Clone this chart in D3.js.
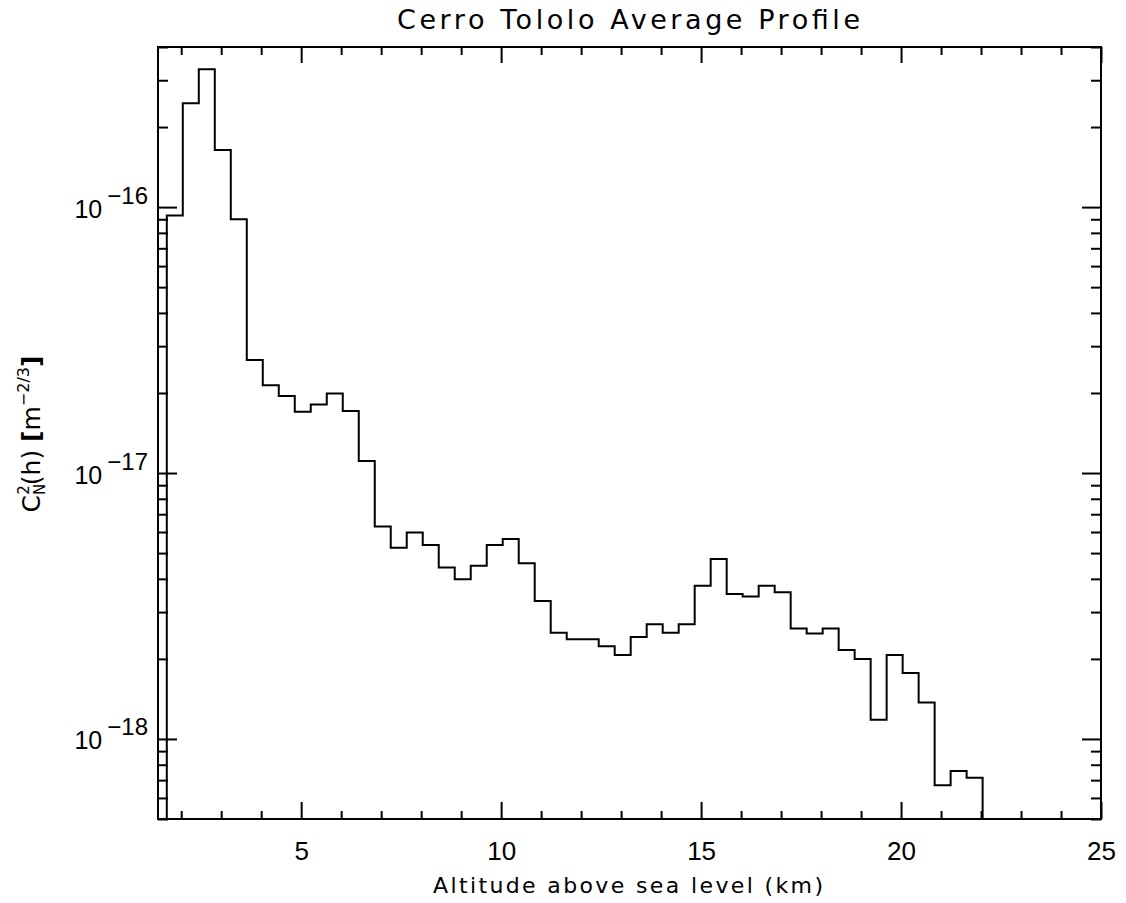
<!DOCTYPE html>
<html>
<head>
<meta charset="utf-8">
<script src="https://cdn.jsdelivr.net/npm/d3@7"></script>
<style>
  body { margin: 0; background: #fff; }
  svg { display: block; font-family: "DejaVu Sans", sans-serif; }
  .tick line { stroke: #000; stroke-width: 2; }
</style>
</head>
<body>
<svg id="chart" width="1126" height="903"></svg>
<script>
// altitude of each bin's lower edge (km), bins are 0.4 km wide
const altitude = [1.64, 2.04, 2.44, 2.84, 3.24, 3.64, 4.04, 4.44, 4.84, 5.24,
  5.64, 6.04, 6.44, 6.84, 7.24, 7.64, 8.04, 8.44, 8.84, 9.24,
  9.64, 10.04, 10.44, 10.84, 11.24, 11.64, 12.04, 12.44, 12.84, 13.24,
  13.64, 14.04, 14.44, 14.84, 15.24, 15.64, 16.04, 16.44, 16.84, 17.24,
  17.64, 18.04, 18.44, 18.84, 19.24, 19.64, 20.04, 20.44, 20.84, 21.24, 21.64];
const binWidth = 0.4;

// Cn2(h) in m^-2/3
const cn2 = [9.3e-17, 2.46e-16, 3.3e-16, 1.64e-16, 9.0e-17, 2.66e-17, 2.14e-17, 1.95e-17, 1.70e-17, 1.81e-17,
  1.99e-17, 1.71e-17, 1.11e-17, 6.3e-18, 5.24e-18, 5.98e-18, 5.36e-18, 4.41e-18, 3.99e-18, 4.48e-18,
  5.36e-18, 5.65e-18, 4.58e-18, 3.30e-18, 2.51e-18, 2.37e-18, 2.37e-18, 2.23e-18, 2.07e-18, 2.42e-18,
  2.70e-18, 2.51e-18, 2.70e-18, 3.77e-18, 4.75e-18, 3.51e-18, 3.43e-18, 3.77e-18, 3.56e-18, 2.60e-18,
  2.49e-18, 2.60e-18, 2.16e-18, 2.00e-18, 1.18e-18, 2.07e-18, 1.77e-18, 1.37e-18, 6.7e-19, 7.57e-19, 7.14e-19];

const xTicks = [5, 10, 15, 20, 25];
const yTicks = [1e-16, 1e-17, 1e-18];
const yTickExp = ["\u221216", "\u221217", "\u221218"];

const xDomain = [1.42, 25];
const yDomain = [5e-19, 4e-16];

// layout
const svg = d3.select("#chart");
const plotLeft = 158, plotRight = 1101, plotTop = 47, plotBottom = 819;

const x = d3.scaleLinear().domain(xDomain).range([plotLeft, plotRight]);
const y = d3.scaleLog().domain(yDomain).range([plotBottom, plotTop]);

const xMinor = d3.range(2, 25).filter(d => d % 5 !== 0);
const yMinor = y.ticks().filter(d => !yTicks.some(t => Math.abs(t - d) / t < 1e-6));

// clip for histogram
svg.append("clipPath").attr("id", "plotClip")
  .append("rect")
  .attr("x", plotLeft).attr("y", plotTop)
  .attr("width", plotRight - plotLeft).attr("height", plotBottom - plotTop);

// histogram as step line
const pts = [{ a: altitude[0], v: yDomain[0] }];
altitude.forEach((a, i) => pts.push({ a: a, v: cn2[i] }));
const lastEdge = altitude[altitude.length - 1] + binWidth;
pts.push({ a: lastEdge, v: cn2[cn2.length - 1] });
pts.push({ a: lastEdge, v: yDomain[0] });

const line = d3.line()
  .x(d => x(d.a))
  .y(d => y(d.v))
  .curve(d3.curveStepAfter);

svg.append("path")
  .datum(pts)
  .attr("clip-path", "url(#plotClip)")
  .attr("fill", "none")
  .attr("stroke", "#000")
  .attr("stroke-width", 2)
  .attr("d", line);

// axes (ticks inward)
function cleanAxis(g) {
  g.select(".domain").remove();
}

svg.append("g")
  .attr("transform", `translate(0,${plotBottom})`)
  .call(d3.axisBottom(x).tickValues(xMinor).tickSize(-8).tickFormat(""))
  .call(cleanAxis);

const xAxisG = svg.append("g")
  .attr("transform", `translate(0,${plotBottom})`)
  .call(d3.axisBottom(x).tickValues(xTicks).tickSize(-17).tickFormat(d3.format("d")))
  .call(cleanAxis);
xAxisG.selectAll("text")
  .attr("y", 41)
  .attr("dy", null)
  .attr("fill", "#000")
  .style("font-size", "26px");

svg.append("g")
  .attr("transform", `translate(0,${plotTop})`)
  .call(d3.axisTop(x).tickValues(xMinor).tickSize(-8).tickFormat(""))
  .call(cleanAxis);
svg.append("g")
  .attr("transform", `translate(0,${plotTop})`)
  .call(d3.axisTop(x).tickValues(xTicks).tickSize(-16).tickFormat(""))
  .call(cleanAxis);

svg.append("g")
  .attr("transform", `translate(${plotLeft},0)`)
  .call(d3.axisLeft(y).tickValues(yMinor).tickSize(-10).tickFormat(""))
  .call(cleanAxis);
const yAxisG = svg.append("g")
  .attr("transform", `translate(${plotLeft},0)`)
  .call(d3.axisLeft(y).tickValues(yTicks).tickSize(-19).tickFormat(""))
  .call(cleanAxis);

svg.append("g")
  .attr("transform", `translate(${plotRight},0)`)
  .call(d3.axisRight(y).tickValues(yMinor).tickSize(-10).tickFormat(""))
  .call(cleanAxis);
svg.append("g")
  .attr("transform", `translate(${plotRight},0)`)
  .call(d3.axisRight(y).tickValues(yTicks).tickSize(-19).tickFormat(""))
  .call(cleanAxis);

// y tick labels 10^n
yAxisG.selectAll(".tick").each(function (d, i) {
  const t = d3.select(this).select("text")
    .attr("x", -10).attr("y", 10).attr("dy", null)
    .attr("text-anchor", "end")
    .attr("fill", "#000")
    .style("font-size", "25px")
    .text(null);
  t.append("tspan").text("10");
  t.append("tspan")
    .attr("dx", 5)
    .attr("dy", -14)
    .style("font-size", "24px")
    .text(yTickExp[i]);
});

// frame
svg.append("rect")
  .attr("x", plotLeft).attr("y", plotTop)
  .attr("width", plotRight - plotLeft).attr("height", plotBottom - plotTop)
  .attr("fill", "none")
  .attr("stroke", "#000")
  .attr("stroke-width", 2);

// title
svg.append("text")
  .attr("x", (plotLeft + plotRight) / 2 - 1)
  .attr("y", 29)
  .attr("text-anchor", "middle")
  .attr("textLength", 463)
  .attr("lengthAdjust", "spacing")
  .style("font-size", "27px")
  .text("Cerro Tololo Average Profile");

// x label
svg.append("text")
  .attr("x", 628)
  .attr("y", 893)
  .attr("text-anchor", "middle")
  .attr("textLength", 390)
  .attr("lengthAdjust", "spacing")
  .style("font-size", "22px")
  .text("Altitude above sea level (km)");

// y label
const yl = svg.append("text")
  .attr("transform", "translate(40,434) rotate(-90)")
  .attr("text-anchor", "middle")
  .style("font-size", "25px");
yl.append("tspan").text("C");
yl.append("tspan").attr("dy", 5).style("font-size", "15px").text("N");
yl.append("tspan").attr("dx", -11).attr("dy", -16).style("font-size", "15px").text("2");
yl.append("tspan").attr("dy", 11).text("(h) ");
yl.append("tspan").style("font-weight", "bold").text("[");
yl.append("tspan").text("m");
yl.append("tspan").attr("dy", -11).style("font-size", "16px").text("\u22122/3");
yl.append("tspan").attr("dy", 11).style("font-weight", "bold").text("]");
</script>
</body>
</html>
